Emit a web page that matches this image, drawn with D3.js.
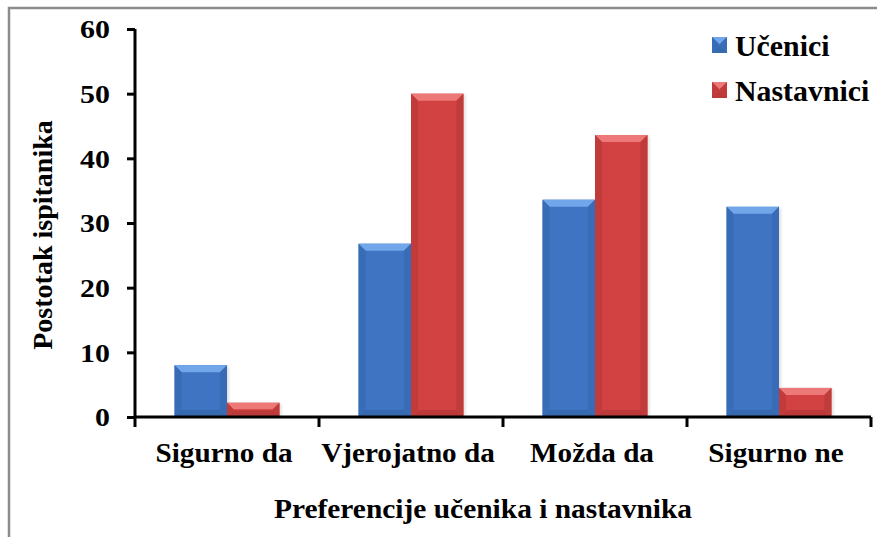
<!DOCTYPE html>
<html><head><meta charset="utf-8">
<script src="https://cdn.jsdelivr.net/npm/d3@7"></script>
<style>body{margin:0;background:#fff}svg{display:block}</style>
</head><body><svg id="c" width="885" height="537"></svg>
<script>
const categories = ["Sigurno da", "Vjerojatno da", "Možda da", "Sigurno ne"];
const seriesNames = ["Učenici", "Nastavnici"];
const ucenici = [8.0, 26.8, 33.6, 32.5];
const nastavnici = [2.2, 50.0, 43.6, 4.5];
const yTicks = [0, 10, 20, 30, 40, 50, 60];
const yTitle = "Postotak ispitanika";
const xTitle = "Preferencije učenika i nastavnika";

(function(){
const svg = d3.select("#c");
const font = "'Liberation Serif','Times New Roman',serif";
const palette = {
  "Učenici": {main:"#3e74c2", top:"#72a6ea", side:"#386cb6", bottom:"#3669ae"},
  "Nastavnici": {main:"#d24242", top:"#ec7878", side:"#c13b3b", bottom:"#bb3939"}
};

// border
svg.append("path").attr("d","M9,537 L9,8 L877,8").attr("fill","none").attr("stroke","#8c8c8c").attr("stroke-width",2.5);

const pl = 135, pr = 871, pt = 29, pb = 417;
const x = d3.scaleBand().domain(categories).range([pl, pr]).paddingInner(0.43).paddingOuter(0.215);
const xs = d3.scaleBand().domain(seriesNames).range([0, x.bandwidth()]);
const y = d3.scaleLinear().domain([0, 60]).range([pb, pt]);

const data = categories.map((c,i)=>({cat:c, vals:[{s:seriesNames[0], v:ucenici[i]},{s:seriesNames[1], v:nastavnici[i]}]}));

const defs = svg.append("defs");
defs.append("filter").attr("id","blur").append("feGaussianBlur").attr("stdDeviation",1.5);

function bevelBar(g, bx, by, w, h, p, shadow){
  const b = Math.min(7, h/2.2);
  if (shadow) g.append("rect").attr("x",bx+2).attr("y",by+1).attr("width",w).attr("height",h-1).attr("fill","#000").attr("opacity",0.12).attr("filter","url(#blur)");
  g.append("rect").attr("x",bx).attr("y",by).attr("width",w).attr("height",h).attr("fill",p.main);
  g.append("polygon").attr("points",[[bx,by],[bx+w,by],[bx+w-b,by+b],[bx+b,by+b]].join(" ")).attr("fill",p.top);
  g.append("polygon").attr("points",[[bx,by],[bx+b,by+b],[bx+b,by+h-b],[bx,by+h]].join(" ")).attr("fill",p.side);
  g.append("polygon").attr("points",[[bx+w,by],[bx+w-b,by+b],[bx+w-b,by+h-b],[bx+w,by+h]].join(" ")).attr("fill",p.side);
  g.append("polygon").attr("points",[[bx,by+h],[bx+b,by+h-b],[bx+w-b,by+h-b],[bx+w,by+h]].join(" ")).attr("fill",p.bottom);
}

const bars = svg.append("g");
data.forEach(d=>{
  d.vals.forEach(v=>{
    const bx = x(d.cat) + xs(v.s);
    const by = y(v.v);
    bevelBar(bars, bx, by, xs.bandwidth(), y(0)-by, palette[v.s], true);
  });
});

function stretch(sel, sx, dxs){
  sel.each(function(){
    const t = d3.select(this);
    const xx = +t.attr("x") || 0;
    t.attr("x", 0).attr("transform", `translate(${xx + (dxs||0)},0) scale(${sx},1)`);
  });
}

// y axis
const yAxis = svg.append("g").attr("transform",`translate(${pl},0)`)
  .call(d3.axisLeft(y).tickValues(yTicks).tickSize(8).tickSizeOuter(0).tickPadding(17));
yAxis.select(".domain").attr("stroke","#000").attr("stroke-width",3).attr("d",`M0,${pt}V${pb}`);
yAxis.selectAll(".tick line").attr("stroke","#000").attr("stroke-width",3);
yAxis.selectAll("text").attr("font-family",font).attr("font-weight","bold").attr("font-size",26).attr("fill","#000").attr("dy","0.34em");
stretch(yAxis.selectAll("text"), 1.15, 0);

// x axis
const xAxis = svg.append("g").attr("transform",`translate(0,${pb})`)
  .call(d3.axisBottom(x).tickSize(0).tickPadding(26));
xAxis.select(".domain").attr("stroke","#000").attr("stroke-width",3).attr("d",`M${pl},0H${pr}`);
xAxis.selectAll("text").attr("font-family",font).attr("font-weight","bold").attr("font-size",27).attr("fill","#000");
stretch(xAxis.selectAll("text"), 1.08, -3);
const bounds = categories.map(c=>x(c) - x.step()*x.paddingInner()/2).concat([pr]);
xAxis.selectAll(".bt").data(bounds).enter().append("line").attr("class","bt")
  .attr("x1",d=>d).attr("x2",d=>d).attr("y1",0).attr("y2",10).attr("stroke","#000").attr("stroke-width",3);

// titles
svg.append("text").attr("transform",`translate(483,518) scale(1.09,1)`).attr("text-anchor","middle")
  .attr("font-family",font).attr("font-weight","bold").attr("font-size",27).text(xTitle);
svg.append("text").attr("transform",`translate(52,235) rotate(-90)`).attr("text-anchor","middle")
  .attr("font-family",font).attr("font-weight","bold").attr("font-size",28).text(yTitle);

// legend
const lg = svg.append("g").attr("transform","translate(712,0)");
seriesNames.forEach((s,i)=>{
  const yy = 37 + i*45;
  bevelBar(lg, 0, yy, 15, 16, palette[s], false);
  lg.append("text").attr("transform",`translate(23,${yy+19}) scale(1.03,1)`).attr("font-family",font).attr("font-weight","bold").attr("font-size",29).text(s);
});
})();
</script></body></html>
